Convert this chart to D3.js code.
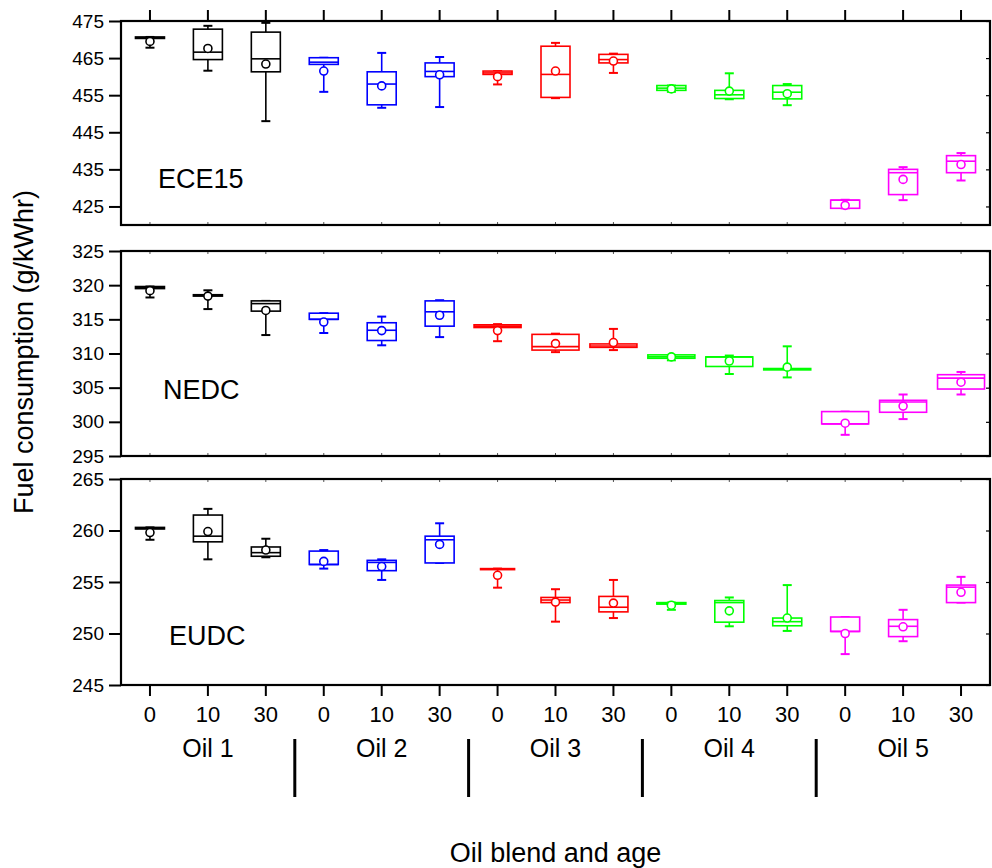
<!DOCTYPE html>
<html><head><meta charset="utf-8">
<script src="https://cdn.jsdelivr.net/npm/d3@7"></script>
<style>body{margin:0;background:#fff;} text{font-family:"Liberation Sans",Arial,sans-serif;fill:#000;}</style>
</head><body><svg id="c" width="992" height="868"></svg>
<script>
// ---- data ----
const oils = ["Oil 1","Oil 2","Oil 3","Oil 4","Oil 5"];
const ages = ["0","10","30"];
const oilColors = ["#000000","#0000ff","#ff0000","#00ff00","#ff00ff"];
// each row: [whiskerLow, q1, median, q3, whiskerHigh, mean]
const ece15Stats = [
  [467.8,470.3,470.5,470.7,470.7,469.5],
  [461.6,464.6,466.6,472.8,473.7,467.6],
  [448.0,461.3,464.8,472.0,474.5,463.4],
  [455.9,463.3,463.9,465.1,465.1,461.5],
  [451.6,452.4,458.0,461.3,466.4,457.5],
  [451.8,460.0,461.4,463.7,465.3,460.5],
  [457.9,460.6,461.0,461.5,461.5,460.0],
  [454.2,454.4,460.6,468.2,469.1,461.5],
  [461.0,463.7,464.6,466.0,466.2,464.2],
  [455.9,456.3,456.9,457.6,457.6,456.7],
  [453.9,454.1,455.1,456.3,460.9,456.1],
  [452.3,454.0,455.8,457.6,458.0,455.4],
  [424.5,424.5,426.7,426.7,426.8,425.3],
  [426.7,428.2,434.1,435.0,435.6,432.3],
  [432.0,434.1,437.2,438.7,439.4,436.3]
];
const nedcStats = [
  [318.2,319.5,319.7,319.8,319.8,319.2],
  [316.5,318.4,318.5,318.6,319.25,318.4],
  [312.7,316.2,317.3,317.7,317.7,316.3],
  [313.0,315.0,315.0,315.9,315.9,314.6],
  [311.2,311.9,313.4,314.5,315.4,313.35],
  [312.4,314.0,316.1,317.7,317.8,315.6],
  [311.8,313.8,314.0,314.2,314.3,313.35],
  [310.2,310.5,311.0,312.8,312.9,311.45],
  [310.5,310.9,311.1,311.4,313.6,311.6],
  [309.0,309.3,309.5,309.8,309.8,309.5],
  [307.0,308.1,309.5,309.5,309.7,308.9],
  [306.5,307.6,307.7,307.8,311.05,308.0],
  [298.1,299.7,299.7,301.5,301.5,299.8],
  [300.4,301.4,302.9,303.15,304.0,302.3],
  [304.0,304.8,306.4,306.9,307.3,305.8]
];
const eudcStats = [
  [259.1,260.15,260.2,260.3,260.3,259.8],
  [257.2,258.9,259.45,261.5,262.1,259.9],
  [257.4,257.5,257.85,258.4,259.2,258.1],
  [256.3,256.7,256.7,258.0,258.1,257.0],
  [255.2,256.1,256.9,257.1,257.2,256.5],
  [256.85,256.85,259.1,259.45,260.7,258.65],
  [254.45,256.2,256.25,256.3,256.3,255.65],
  [251.15,253.0,253.25,253.5,254.3,253.05],
  [251.5,252.1,252.55,253.6,255.2,252.95],
  [252.3,252.85,252.95,253.0,253.0,252.75],
  [250.7,251.1,253.0,253.2,253.5,252.2],
  [250.25,250.75,251.15,251.5,254.7,251.5],
  [248.0,250.2,250.2,251.6,251.6,250.0],
  [249.25,249.7,250.7,251.35,252.3,250.65],
  [253.0,253.0,254.5,254.7,255.5,254.0]
];
const ece15Ticks = [425,435,445,455,465,475];
const nedcTicks = [295,300,305,310,315,320,325];
const eudcTicks = [245,250,255,260,265];

// ---- layout ----
const svg = d3.select("#c");
const L = 121, R = 990;
const cats = [];
oils.forEach((o,oi)=>ages.forEach(a=>cats.push({oil:oi, age:a})));
const x = d3.scaleBand().domain(d3.range(cats.length)).range([L,R]);
const bw = x.bandwidth();
const cx = i => x(i) + bw/2;

const panels = [
  {name:"ECE15", stats:ece15Stats, ticks:ece15Ticks, domain:[420,475], top:21, bottom:225, lx:158, ly:188, wide:[], mid:[]},
  {name:"NEDC", stats:nedcStats, ticks:nedcTicks, domain:[295,325], top:251, bottom:456, lx:163, ly:399, wide:[6,7,8,9,10,11,12,13,14], mid:[]},
  {name:"EUDC", stats:eudcStats, ticks:eudcTicks, domain:[245,265], top:479, bottom:685, lx:169, ly:645, wide:[], mid:[6]}
];

panels.forEach((p,pi)=>{
  const y = d3.scaleLinear().domain(p.domain).range([p.bottom,p.top]);
  const g = svg.append("g");
  const ax = g.append("g").attr("transform",`translate(${L},0)`)
    .call(d3.axisLeft(y).tickValues(p.ticks).tickSize(12).tickPadding(5).tickFormat(d3.format("d")));
  ax.select(".domain").remove();
  ax.selectAll("line").attr("stroke","#000").attr("stroke-width",2);
  ax.selectAll("text").style("font-size","19px").style("font-family","Liberation Sans, Arial, sans-serif");
  const ar = g.append("g").attr("transform",`translate(${R},0)`)
    .call(d3.axisLeft(y).tickValues(p.ticks).tickSize(4).tickFormat(""));
  ar.select(".domain").remove();
  ar.selectAll("line").attr("stroke","#000").attr("stroke-width",1.2);
  if(pi===0){
    const at = g.append("g").attr("transform",`translate(0,${p.top})`)
      .call(d3.axisTop(x).tickSize(11).tickFormat(""));
    at.select(".domain").remove();
    at.selectAll("line").attr("stroke","#000").attr("stroke-width",2);
  } else {
    const at = g.append("g").attr("transform",`translate(0,${p.top})`)
      .call(d3.axisBottom(x).tickSize(3).tickFormat(""));
    at.select(".domain").remove();
    at.selectAll("line").attr("stroke","#555").attr("stroke-width",1);
  }
  if(pi===2){
    const ab = g.append("g").attr("transform",`translate(0,${p.bottom})`)
      .call(d3.axisBottom(x).tickSize(11).tickPadding(10).tickFormat(i=>cats[i].age));
    ab.select(".domain").remove();
    ab.selectAll("line").attr("stroke","#000").attr("stroke-width",2);
    ab.selectAll("text").style("font-size","22px").style("font-family","Liberation Sans, Arial, sans-serif");
  } else {
    const ab = g.append("g").attr("transform",`translate(0,${p.bottom})`)
      .call(d3.axisTop(x).tickSize(3).tickFormat(""));
    ab.select(".domain").remove();
    ab.selectAll("line").attr("stroke","#555").attr("stroke-width",1);
  }
  g.append("rect").attr("x",L).attr("y",p.top).attr("width",R-L).attr("height",p.bottom-p.top)
    .attr("fill","none").attr("stroke","#000").attr("stroke-width",2.2);
  g.append("text").attr("x",p.lx).attr("y",p.ly).text(p.name).style("font-size","27px");
  p.stats.forEach((s,i)=>{
    const [lo,q1,med,q3,hi,mean] = s;
    const col = oilColors[cats[i].oil];
    const w = p.wide.includes(i) ? 47 : (p.mid.includes(i) ? 34 : 29);
    const c = cx(i);
    const b = g.append("g").attr("stroke",col).attr("fill","none").attr("stroke-width",1.6);
    b.append("line").attr("x1",c).attr("x2",c).attr("y1",y(q3)).attr("y2",y(hi));
    b.append("line").attr("x1",c).attr("x2",c).attr("y1",y(q1)).attr("y2",y(lo));
    b.append("line").attr("x1",c-4.5).attr("x2",c+4.5).attr("y1",y(hi)).attr("y2",y(hi)).attr("stroke-width",2);
    b.append("line").attr("x1",c-4.5).attr("x2",c+4.5).attr("y1",y(lo)).attr("y2",y(lo)).attr("stroke-width",2);
    b.append("rect").attr("x",c-w/2).attr("y",y(q3)).attr("width",w).attr("height",Math.max(0.5,y(q1)-y(q3))).attr("fill","#fff");
    b.append("line").attr("x1",c-w/2).attr("x2",c+w/2).attr("y1",y(med)).attr("y2",y(med));
    b.append("circle").attr("cx",c).attr("cy",y(mean)).attr("r",4).attr("fill","#fff");
  });
});

const sep = svg.append("g");
oils.forEach((o,oi)=>{
  const c = (cx(oi*3)+cx(oi*3+2))/2;
  sep.append("text").attr("x",c).attr("y",757).attr("text-anchor","middle").text(o).style("font-size","25px");
  if(oi>0){
    const bx = x(oi*3);
    sep.append("line").attr("x1",bx).attr("x2",bx).attr("y1",739).attr("y2",797).attr("stroke","#000").attr("stroke-width",3);
  }
});
svg.append("text").attr("x",(L+R)/2).attr("y",862).attr("text-anchor","middle").text("Oil blend and age").style("font-size","27px");
svg.append("text").attr("transform","translate(33,352) rotate(-90)").attr("text-anchor","middle").text("Fuel consumption (g/kWhr)").style("font-size","27px");
</script></body></html>
